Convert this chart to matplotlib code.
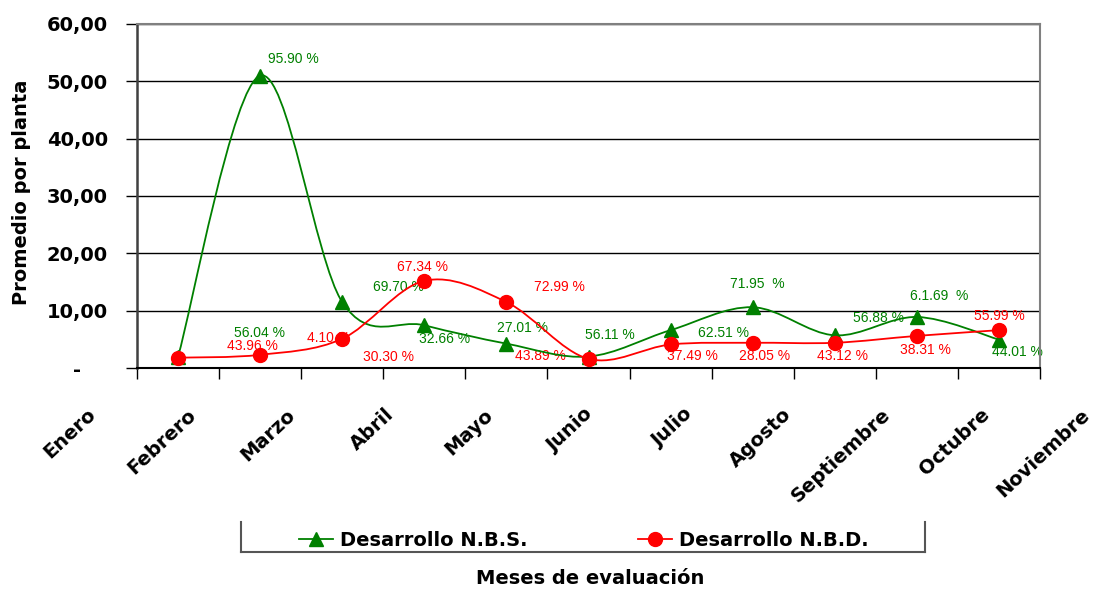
import numpy as np
import matplotlib
matplotlib.use("Agg")
import matplotlib.pyplot as plt
from matplotlib.path import Path
from matplotlib.patches import PathPatch
from matplotlib.lines import Line2D

# ── data ──────────────────────────────────────────────────────────────
months = ["Enero", "Febrero", "Marzo", "Abril", "Mayo", "Junio", "Julio",
          "Agosto", "Septiembre", "Octubre", "Noviembre"]
nbs_values = [2.0, 51.0, 11.5, 7.45, 4.25, 2.0, 6.6, 10.6, 5.7, 8.9, 4.95]
nbd_values = [1.8, 2.3, 5.1, 15.2, 11.5, 1.6, 4.1, 4.4, 4.4, 5.6, 6.6]
y_ticks = [0, 10, 20, 30, 40, 50, 60]

nbs_labels = ["95.90 %", "56.04 %", "69.70 %", "32.66 %", "27.01 %", "56.11 %",
              "62.51 %", "71.95  %", "56.88 %", "6.1.69  %", "44.01 %"]
nbd_labels = ["43.96 %", "4.10 %", "67.34 %", "30.30 %", "72.99 %", "43.89 %",
              "37.49 %", "28.05 %", "43.12 %", "38.31 %", "55.99 %"]

# ── layout of the percent labels (x in category units, y in data units) ──
nbs_label_pos = [(1.40, 53.9), (0.99, 6.06), (2.68, 14.08), (3.25, 5.01),
                 (4.20, 6.93), (5.26, 5.71), (6.65, 6.06), (7.06, 14.6),
                 (8.53, 8.67), (9.27, 12.5), (10.22, 2.74)]
nbd_label_pos = [(0.91, 3.79), (1.83, 5.18), (2.98, 17.57), (2.56, 1.87),
                 (4.65, 14.08), (4.42, 2.04), (6.27, 2.04), (7.14, 2.04),
                 (8.10, 2.04), (9.10, 3.09), (10.01, 9.02)]

GREEN = "#008000"
RED = "#ff0000"
BIG = dict(family="DejaVu Sans", weight="bold", size=14)


def smooth_path(xs, ys):
    """Excel-like smoothed line as a cubic bezier path through the points."""
    pts = np.column_stack([xs, ys]).astype(float)
    n = len(pts)
    verts = [pts[0]]
    codes = [Path.MOVETO]
    for i in range(n - 1):
        p0 = pts[max(i - 1, 0)]
        p1 = pts[i]
        p2 = pts[i + 1]
        p3 = pts[min(i + 2, n - 1)]
        verts += [p1 + (p2 - p0) / 6, p2 - (p3 - p1) / 6, p2]
        codes += [Path.CURVE4] * 3
    return Path(verts, codes)


W, H = 1096, 589
fig = plt.figure(figsize=(W / 100, H / 100), dpi=100)
ax = fig.add_axes([137 / W, 1 - 368 / H, 903 / W, 344 / H])

x = np.arange(len(months))
ax.set_xlim(-0.5, len(months) - 0.5)
ax.set_ylim(0, 60)

# lines + markers
ax.add_patch(PathPatch(smooth_path(x, nbs_values), facecolor="none",
                       edgecolor=GREEN, lw=1.3, zorder=3))
ax.plot(x, nbs_values, ls="none", marker="^", ms=10, color=GREEN, zorder=4)
ax.add_patch(PathPatch(smooth_path(x, nbd_values), facecolor="none",
                       edgecolor=RED, lw=1.3, zorder=5))
ax.plot(x, nbd_values, ls="none", marker="o", ms=10, color=RED, zorder=6)

# percent labels
for txt, (px, py) in zip(nbs_labels, nbs_label_pos):
    ax.text(px, py, txt, color=GREEN, fontsize=10, family="Liberation Sans",
            ha="center", va="center", zorder=2)
for txt, (px, py) in zip(nbd_labels, nbd_label_pos):
    ax.text(px, py, txt, color=RED, fontsize=10, family="Liberation Sans",
            ha="center", va="center", zorder=2)

# axes styling
ax.set_axisbelow(True)
ax.yaxis.grid(True, color="black", lw=1)
ax.set_yticks(y_ticks)
ax.set_yticklabels([("-\u2007\u2007" if v == 0 else f"{v:.2f}".replace(".", ","))
                    for v in y_ticks], **BIG)
ax.set_xticks(np.arange(-0.5, len(months), 1))
ax.set_xticklabels([])
ax.tick_params(axis="y", direction="out", length=8, width=1, pad=13, colors="black")
ax.tick_params(axis="x", direction="out", length=8, width=1)
ax.spines["left"].set_color("#404040")
ax.spines["left"].set_linewidth(1.8)
ax.spines["bottom"].set_color("black")
ax.spines["bottom"].set_linewidth(1.5)
for s in ("top", "right"):
    ax.spines[s].set_color("#808080")
    ax.spines[s].set_linewidth(1.5)

ax.set_ylabel("Promedio por planta", **BIG)
ax.yaxis.set_label_coords(-0.117, 0.51)

# month labels (rotated, spread wider than the categories like the original)
for i, m in enumerate(months):
    fig.text((100 + 99.3 * i) / W, 1 - 405 / H, m, rotation=43,
             ha="right", va="top", **BIG)

# legend
handles = [
    Line2D([], [], color=GREEN, lw=1.3, marker="^", ms=10),
    Line2D([], [], color=RED, lw=1.3, marker="o", ms=10),
]
fig.legend(handles, ["Desarrollo N.B.S.", "Desarrollo N.B.D."], ncol=2,
           loc="center", bbox_to_anchor=(584 / W, 1 - 540 / H),
           frameon=False, prop=BIG, handlelength=1.75, handletextpad=0.36,
           columnspacing=5.7)
box = dict(color="#555555", lw=1.5, transform=fig.transFigure)
fig.add_artist(Line2D([241 / W, 241 / W], [1 - 522 / H, 1 - 552 / H], **box))
fig.add_artist(Line2D([241 / W, 925 / W], [1 - 552 / H, 1 - 552 / H], **box))
fig.add_artist(Line2D([925 / W, 925 / W], [1 - 522 / H, 1 - 552 / H], **box))

fig.text(590 / W, 1 - 578 / H, "Meses de evaluación", ha="center", va="center", **BIG)

fig.savefig("out.png", dpi=100, facecolor="white")
